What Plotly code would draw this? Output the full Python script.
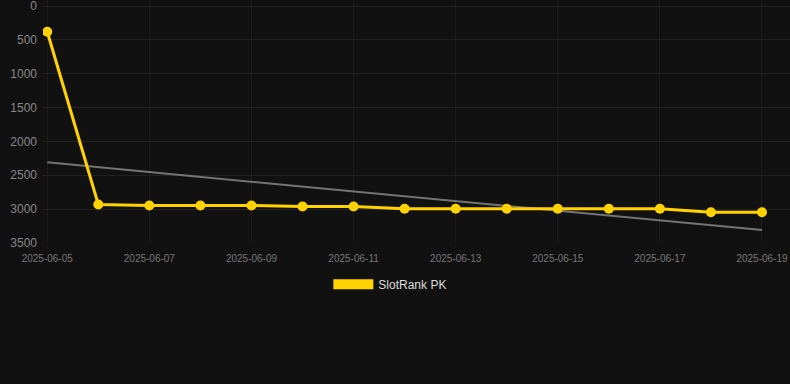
import plotly.graph_objects as go
import numpy as np

dates = ["2025-06-05", "2025-06-06", "2025-06-07", "2025-06-08", "2025-06-09",
         "2025-06-10", "2025-06-11", "2025-06-12", "2025-06-13", "2025-06-14",
         "2025-06-15", "2025-06-16", "2025-06-17", "2025-06-18", "2025-06-19"]
ranks = [380, 2932, 2947, 2947, 2947, 2962, 2962, 2995, 2995, 2995, 2995, 2995, 2995, 3045, 3045]
series_name = "SlotRank PK"
y_ticks = [0, 500, 1000, 1500, 2000, 2500, 3000, 3500]
x_ticks = ["2025-06-05", "2025-06-07", "2025-06-09", "2025-06-11", "2025-06-13",
           "2025-06-15", "2025-06-17", "2025-06-19"]

gold = "#FFD200"
idx = np.arange(len(ranks))
coef = np.polyfit(idx, ranks, 1)
trend = np.polyval(coef, idx)

fig = go.Figure()
fig.add_trace(go.Scatter(x=dates, y=trend, mode="lines",
                         line=dict(color="rgba(150,150,150,0.75)", width=2),
                         showlegend=False, hoverinfo="skip"))
fig.add_trace(go.Scatter(x=dates, y=ranks, mode="lines+markers",
                         line=dict(color=gold, width=3),
                         marker=dict(color=gold, size=10),
                         showlegend=False, name=series_name))
fig.add_trace(go.Scatter(x=[None], y=[None], mode="lines",
                         line=dict(color=gold, width=12), name=series_name))

fig.update_layout(
    width=790, height=384,
    paper_bgcolor="#111111", plot_bgcolor="#111111",
    margin=dict(l=43, r=0, t=0, b=141),
    font=dict(family="Liberation Sans, Arial, sans-serif", color="#888888"),
    legend=dict(orientation="h", x=0.465, xanchor="center", y=-0.17, yanchor="middle",
                font=dict(size=12, color="#dddddd"), itemwidth=40),
    xaxis=dict(type="date", range=["2025-06-04 22:00", "2025-06-19 13:10"],
               tickvals=x_ticks, ticktext=x_ticks, tickfont=dict(size=10, color="#777777"),
               showgrid=True, gridcolor="#1c1c1c", zeroline=False, showline=False,
               ticks="", ticklen=0, ticklabelstandoff=8, ticklabeloverflow="allow"),
    yaxis=dict(range=[3500, -89], tickvals=y_ticks, tickfont=dict(size=12, color="#888888"),
               showgrid=True, gridcolor="#222222", zeroline=False, showline=False,
               ticks="", ticklen=0, ticklabelstandoff=5, ticklabeloverflow="allow"),
)

fig.write_html("out.html", config={"displayModeBar": False})
with open("out.html", "r", encoding="utf-8") as f:
    html = f.read()
html = html.replace("<head>", "<head><style>html,body{margin:0;padding:0;background:#111111;overflow:hidden;}</style>", 1)
with open("out.html", "w", encoding="utf-8") as f:
    f.write(html)
